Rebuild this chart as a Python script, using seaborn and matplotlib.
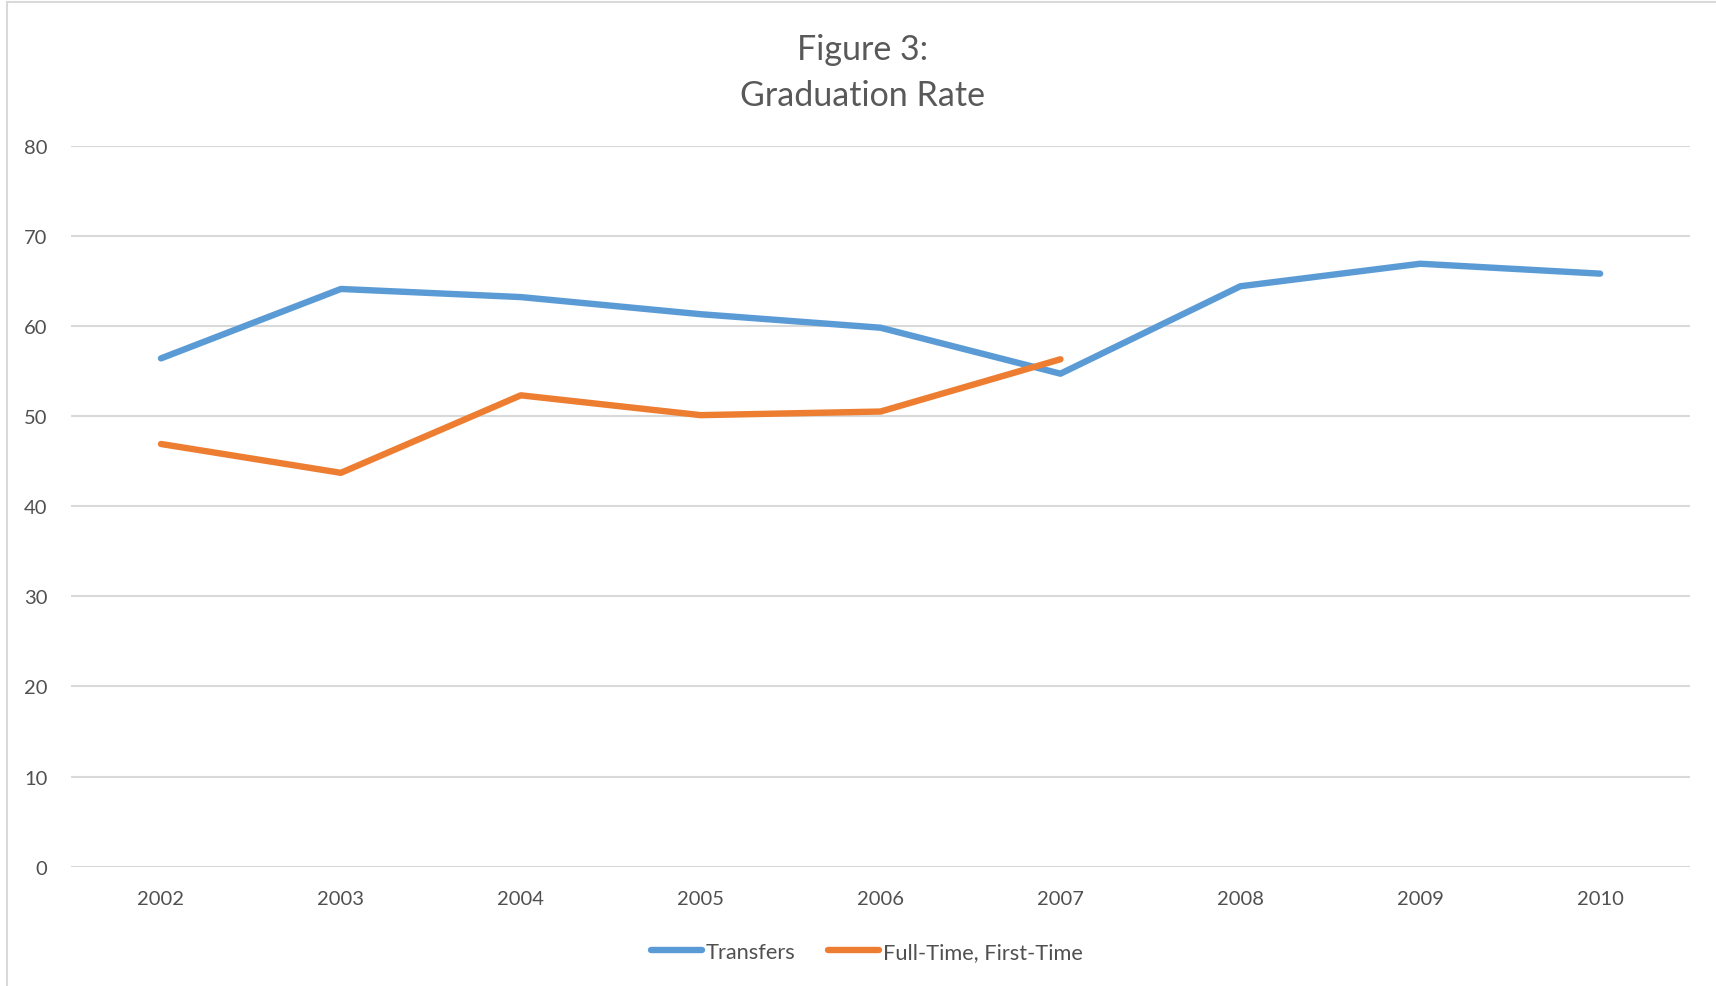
import matplotlib.pyplot as plt
import matplotlib.patches as mpatches
import numpy as np
import pandas as pd
import seaborn as sns

years = [2002, 2003, 2004, 2005, 2006, 2007, 2008, 2009, 2010]
transfers = [56.4, 64.1, 63.2, 61.3, 59.8, 54.7, 64.4, 66.9, 65.8]
full_time = [46.9, 43.7, 52.3, 50.1, 50.5, 56.3, np.nan, np.nan, np.nan]
series_names = ['Transfers', 'Full-Time, First-Time']
colors = ['#5B9BD5', '#ED7D31']

df = pd.DataFrame({'year': years, series_names[0]: transfers, series_names[1]: full_time})
df = df.melt(id_vars='year', var_name='series', value_name='rate').dropna()

sns.set_style('white')
plt.rcParams['font.family'] = ['Lato', 'DejaVu Sans']

fig = plt.figure(figsize=(17.16, 9.87), dpi=100)
ax = fig.add_axes([0.0414, 0.1209, 0.9435, 0.7305])

sns.lineplot(data=df, x='year', y='rate', hue='series', hue_order=series_names,
             palette=colors, linewidth=4.6, ax=ax, solid_capstyle='round')

ax.set_xlim(2001.5, 2010.5)
ax.set_ylim(0, 80)
ax.set_xticks(years)
ax.set_xticklabels([str(y) for y in years])
ax.set_yticks(range(0, 81, 10))
ax.grid(axis='y', color='#D9D9D9', linewidth=1.5)
ax.set_axisbelow(True)
for s in ax.spines.values():
    s.set_visible(False)
ax.tick_params(axis='both', length=0, labelsize=14.5, labelcolor='#505050')
ax.tick_params(axis='y', pad=17)
ax.tick_params(axis='x', pad=17)
ax.set_xlabel('')
ax.set_ylabel('')

fig.text(0.5025, 0.949, 'Figure 3:', ha='center', va='center', fontsize=24.5, color='#595959')
fig.text(0.5025, 0.903, 'Graduation Rate', ha='center', va='center', fontsize=24.5, color='#595959')

handles, labels = ax.get_legend_handles_labels()
for h in handles:
    h.set_linewidth(4.6)
ax.legend(handles, labels, loc='center', bbox_to_anchor=(0.4915, -0.118), ncol=2, frameon=False,
          fontsize=15.7, labelcolor='#505050', handlelength=2.35, handletextpad=0.15, columnspacing=1.5)

# outer chart border
fig.patches.append(mpatches.Rectangle((0.004, -0.01), 1.2, 1.007, transform=fig.transFigure,
                                      fill=False, edgecolor='#D9D9D9', linewidth=1.5))

fig.savefig('out.png', dpi=100, facecolor='white')
